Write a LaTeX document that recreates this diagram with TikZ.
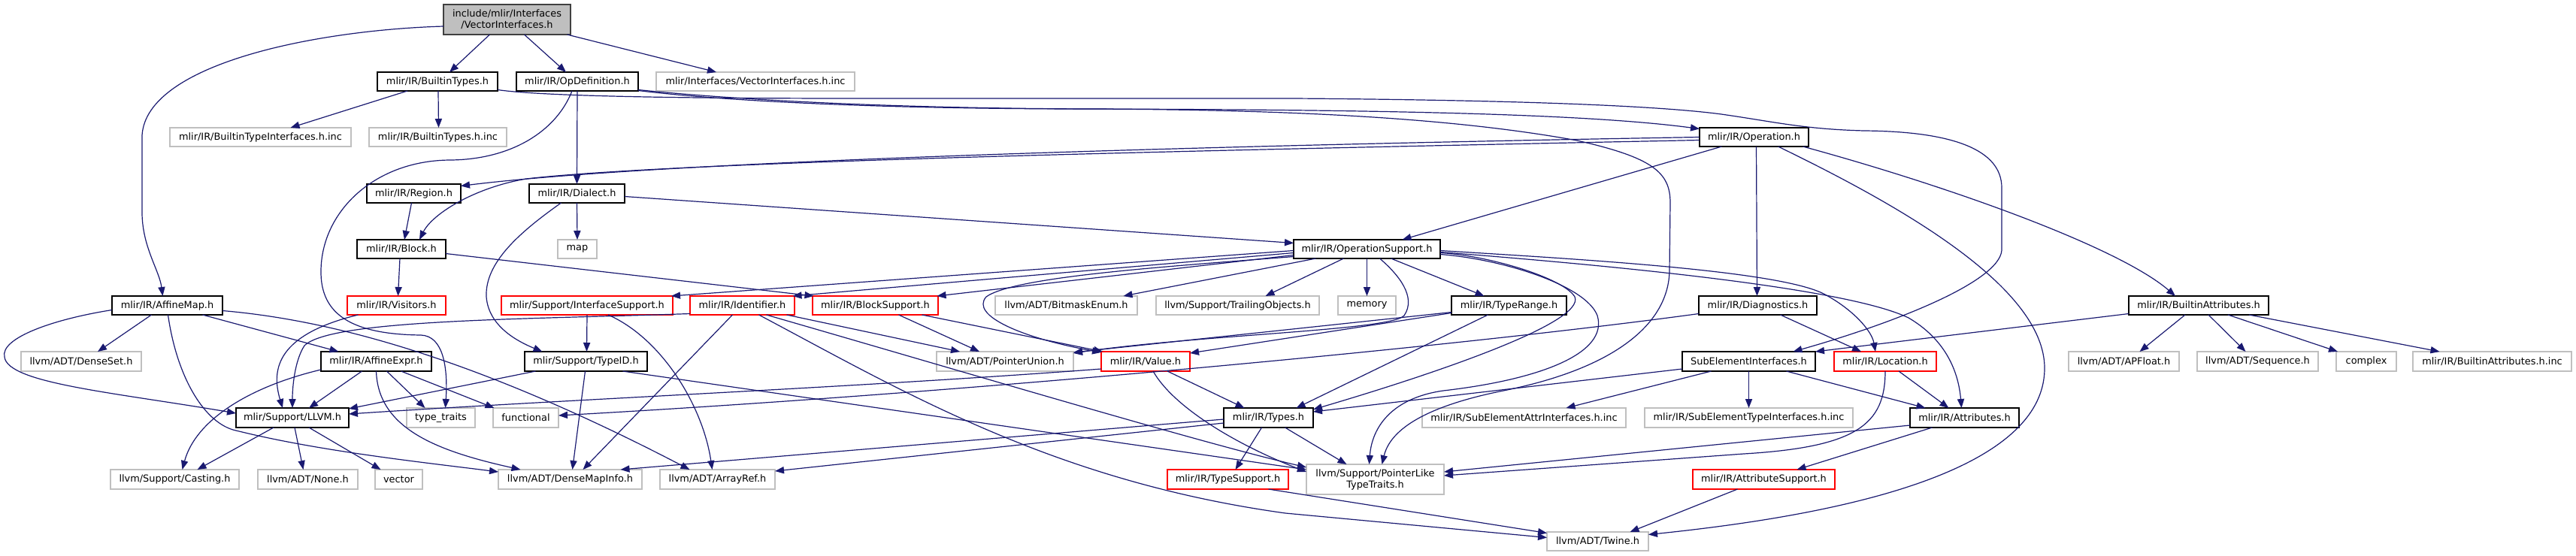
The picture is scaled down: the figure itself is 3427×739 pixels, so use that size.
\documentclass[tikz,border=0pt]{standalone}
\usepackage{fontspec}
\setmainfont{DejaVu Sans}
\usetikzlibrary{arrows.meta,calc}
\definecolor{edgec}{HTML}{191970}
\definecolor{grayb}{HTML}{BFBFBF}
\definecolor{darkb}{HTML}{404040}
\newcommand{\gvbox}[7]{\node[#1, minimum width={(#5-#3)*0.5pt}, minimum height={(#6-#4)*0.5pt}] (#2) at ({(#3+#5)/2},{(#4+#6)/2}) {#7};}
\begin{document}
\begin{tikzpicture}[x=0.5pt,y=-0.5pt,
  every node/.style={font=\fontsize{6.45}{7.5}\selectfont, inner sep=0pt, outer sep=0pt, align=center},
  bk/.style={draw=black, line width=0.65pt, fill=white},
  gy/.style={draw=grayb, line width=0.75pt, fill=white},
  rd/.style={draw=red, line width=0.7pt, fill=white},
  rt/.style={draw=darkb, line width=0.7pt, fill=grayb},
  e/.style={draw=edgec, line width=0.6pt, -{Triangle[length=6pt,width=4.6pt]}}]
\useasboundingbox (0,0) rectangle (3427,739);
% nodes
\gvbox{rt}{root}{590}{6}{759}{46}{include/mlir/Interfaces\\/VectorInterfaces.h}
\gvbox{bk}{bt}{502}{96}{662}{121}{mlir/IR/BuiltinTypes.h}
\gvbox{bk}{opd}{687}{96}{849}{121}{mlir/IR/OpDefinition.h}
\gvbox{gy}{vinc}{873}{96}{1137}{121}{mlir/Interfaces/VectorInterfaces.h.inc}
\gvbox{gy}{btii}{226}{170}{467}{195}{mlir/IR/BuiltinTypeInterfaces.h.inc}
\gvbox{gy}{btinc}{491}{170}{674}{195}{mlir/IR/BuiltinTypes.h.inc}
\gvbox{bk}{op}{2261}{170}{2406}{195}{mlir/IR/Operation.h}
\gvbox{bk}{reg}{488}{245}{613}{270}{mlir/IR/Region.h}
\gvbox{bk}{dia}{704}{245}{831}{270}{mlir/IR/Dialect.h}
\gvbox{bk}{blk}{475}{319}{593}{344}{mlir/IR/Block.h}
\gvbox{gy}{map}{742}{319}{794}{344}{map}
\gvbox{bk}{ops}{1721}{319}{1916}{344}{mlir/IR/OperationSupport.h}
\gvbox{bk}{amap}{149}{394}{296}{419}{mlir/IR/AffineMap.h}
\gvbox{rd}{vis}{462}{394}{593}{419}{mlir/IR/Visitors.h}
\gvbox{rd}{isup}{667}{394}{895}{419}{mlir/Support/InterfaceSupport.h}
\gvbox{rd}{ident}{918}{394}{1057}{419}{mlir/IR/Identifier.h}
\gvbox{rd}{bsup}{1081}{394}{1248}{419}{mlir/IR/BlockSupport.h}
\gvbox{gy}{bmask}{1324}{394}{1513}{419}{llvm/ADT/BitmaskEnum.h}
\gvbox{gy}{trail}{1538}{394}{1755}{419}{llvm/Support/TrailingObjects.h}
\gvbox{gy}{mem}{1780}{394}{1857}{419}{memory}
\gvbox{bk}{trange}{1931}{394}{2084}{419}{mlir/IR/TypeRange.h}
\gvbox{bk}{diag}{2260}{394}{2417}{419}{mlir/IR/Diagnostics.h}
\gvbox{bk}{battr}{2832}{394}{3018}{419}{mlir/IR/BuiltinAttributes.h}
\gvbox{gy}{dset}{28}{468}{188}{494}{llvm/ADT/DenseSet.h}
\gvbox{bk}{aexpr}{427}{468}{574}{494}{mlir/IR/AffineExpr.h}
\gvbox{bk}{tid}{698}{468}{861}{494}{mlir/Support/TypeID.h}
\gvbox{gy}{punion}{1246}{468}{1428}{494}{llvm/ADT/PointerUnion.h}
\gvbox{rd}{val}{1465}{468}{1583}{494}{mlir/IR/Value.h}
\gvbox{bk}{subel}{2238}{468}{2415}{494}{SubElementInterfaces.h}
\gvbox{rd}{loc}{2440}{468}{2576}{494}{mlir/IR/Location.h}
\gvbox{gy}{apf}{2752}{468}{2899}{494}{llvm/ADT/APFloat.h}
\gvbox{gy}{seq}{2923}{468}{3084}{494}{llvm/ADT/Sequence.h}
\gvbox{gy}{cplx}{3108}{468}{3188}{494}{complex}
\gvbox{gy}{bainc}{3210}{468}{3421}{494}{mlir/IR/BuiltinAttributes.h.inc}
\gvbox{bk}{llvm}{314}{543}{464}{569}{mlir/Support/LLVM.h}
\gvbox{gy}{ttr}{541}{543}{632}{569}{type\_traits}
\gvbox{gy}{func}{656}{543}{743}{569}{functional}
\gvbox{bk}{types}{1628}{543}{1747}{569}{mlir/IR/Types.h}
\gvbox{gy}{seai}{1892}{543}{2163}{569}{mlir/IR/SubElementAttrInterfaces.h.inc}
\gvbox{gy}{seti}{2188}{543}{2465}{569}{mlir/IR/SubElementTypeInterfaces.h.inc}
\gvbox{bk}{attrs}{2541}{543}{2686}{569}{mlir/IR/Attributes.h}
\gvbox{gy}{cast}{147}{625}{318}{651}{llvm/Support/Casting.h}
\gvbox{gy}{none}{343}{625}{476}{651}{llvm/ADT/None.h}
\gvbox{gy}{vec}{499}{625}{562}{651}{vector}
\gvbox{gy}{dmi}{663}{625}{854}{651}{llvm/ADT/DenseMapInfo.h}
\gvbox{gy}{aref}{878}{625}{1031}{651}{llvm/ADT/ArrayRef.h}
\gvbox{rd}{tsup}{1553}{625}{1714}{651}{mlir/IR/TypeSupport.h}
\gvbox{gy}{plt}{1738}{618}{1921}{658}{llvm/Support/PointerLike\\TypeTraits.h}
\gvbox{rd}{asup}{2252}{625}{2441}{651}{mlir/IR/AttributeSupport.h}
\gvbox{gy}{twine}{2058}{708}{2193}{733}{llvm/ADT/Twine.h}
% root
\draw[e] ($(root.south)+(-23,0)$) -- ($(bt.north)+(16,0)$);
\draw[e] ($(root.south)+(23,0)$) -- ($(opd.north)+(-15,0)$);
\draw[e] ($(root.south)+(80,0)$) -- ($(vinc.north)+(-52,0)$);
\draw[e] ($(root.west)+(0,9)$) .. controls (420,40) and (195,85) .. (189,180) -- (189,285) .. controls (190,330) and (212,360) .. ($(amap.north)+(-6,0)$);
% BuiltinTypes
\draw[e] ($(bt.south)+(-40,0)$) -- ($(btii.north)+(40,0)$);
\draw[e] ($(bt.south)+(1,0)$) -- ($(btinc.north)+(1,0)$);
\draw[e] ($(bt.east)+(0,11)$) .. controls (720,128) and (900,131) .. (1140,131) -- (1720,131) .. controls (2000,133) and (2200,140) .. (2290,152) .. controls (2360,162) and (2400,172) .. (2480,174) .. controls (2600,175) and (2663,200) .. (2663,250) -- (2663,333) .. controls (2660,375) and (2520,430) .. ($(subel.north)+(59,0)$);
% OpDefinition
\draw[e] (opd.south) -- (dia.north);
\draw[e] ($(opd.east)+(0,11)$) .. controls (950,130) and (1150,144) .. (1450,145) .. controls (1800,146) and (2100,150) .. ($(op.west)+(0,-11)$);
\draw[e] ($(opd.east)+(0,12)$) .. controls (950,133) and (1150,145) .. (1450,145) .. controls (1750,146) and (1950,160) .. (2098,187) .. controls (2200,210) and (2222,230) .. (2222,270) -- (2221,360) .. controls (2220,430) and (2150,490) .. (2000,520) .. controls (1900,540) and (1850,570) .. ($(plt.north)+(9,0)$);
\draw[e] ($(opd.south)+(-7,0)$) .. controls (740,175) and (680,212) .. (600,213) .. controls (500,213) and (428,280) .. (427,360) .. controls (426,420) and (470,445) .. (560,446) .. controls (590,447) and (596,490) .. ($(ttr.north)+(6,0)$);
% Operation
\draw[e] (op.west) .. controls (1700,192) and (900,212) .. ($(reg.east)+(0,-10)$);
\draw[e] ($(op.west)+(0,4)$) .. controls (1600,200) and (900,215) .. (700,238) .. controls (630,250) and (575,285) .. ($(blk.north)+(24,0)$);
\draw[e] ($(op.south)+(-43,0)$) -- ($(ops.north)+(47,0)$);
\draw[e] ($(op.south)+(3,0)$) -- ($(diag.north)+(-1,0)$);
\draw[e] ($(op.south)+(65,0)$) .. controls (2600,250) and (2820,330) .. ($(battr.north)+(-31,0)$);
\draw[e] ($(op.south)+(32,0)$) .. controls (2520,270) and (2720,380) .. (2720,490) .. controls (2720,640) and (2400,690) .. ($(twine.east)+(0,-9)$);
% Region, Dialect, Block
\draw[e] ($(reg.south)+(-3,0)$) -- ($(blk.north)+(4,0)$);
\draw[e] (dia.south) -- (map.north);
\draw[e] ($(dia.east)+(0,4)$) -- ($(ops.west)+(0,-8)$);
\draw[e] ($(dia.south)+(-21,0)$) .. controls (690,310) and (645,350) .. (647,395) .. controls (650,435) and (690,455) .. ($(tid.north)+(-58,0)$);
\draw[e] ($(blk.south)+(-2,0)$) -- ($(vis.north)+(2,0)$);
\draw[e] ($(blk.east)+(0,6)$) -- ($(bsup.north)+(-82,0)$);
% OperationSupport
\draw[e] ($(ops.west)+(0,2)$) -- ($(isup.north)+(112,0)$);
\draw[e] ($(ops.west)+(0,5)$) -- ($(ident.north)+(67,0)$);
\draw[e] ($(ops.west)+(0,8)$) -- ($(bsup.north)+(82,0)$);
\draw[e] ($(ops.south)+(-68,0)$) -- ($(bmask.north)+(76,0)$);
\draw[e] ($(ops.south)+(-31,0)$) -- ($(trail.north)+(37,0)$);
\draw[e] (ops.south) -- (mem.north);
\draw[e] ($(ops.south)+(32,0)$) -- ($(trange.north)+(-33,0)$);
\draw[e] ($(ops.west)+(0,10)$) .. controls (1550,355) and (1350,368) .. (1312,395) .. controls (1290,420) and (1360,450) .. ($(val.west)+(0,-12)$);
\draw[e] ($(ops.south)+(17,0)$) .. controls (1860,365) and (1885,395) .. (1868,420) .. controls (1850,440) and (1600,445) .. ($(punion.east)+(0,-11)$);
\draw[e] ($(ops.east)+(0,5)$) .. controls (1980,340) and (2080,370) .. (2095,395) .. controls (2110,430) and (1900,500) .. ($(types.east)+(0,-11)$);
\draw[e] ($(ops.east)+(0,7)$) .. controls (2000,345) and (2110,380) .. (2125,420) .. controls (2140,470) and (2050,505) .. (1920,520) .. controls (1850,530) and (1825,570) .. ($(plt.north)+(-8,0)$);
\draw[e] ($(ops.east)+(0,2)$) .. controls (2100,345) and (2370,360) .. (2428,392) .. controls (2465,412) and (2490,440) .. ($(loc.north)+(-13,0)$);
\draw[e] ($(ops.east)+(0,4)$) .. controls (2100,350) and (2450,380) .. (2539,423) .. controls (2585,450) and (2605,490) .. ($(attrs.north)+(-4,0)$);
% row 5
\draw[e] ($(vis.south)+(-51,0)$) .. controls (370,445) and (360,490) .. ($(llvm.north)+(-13,0)$);
\draw[e] (isup.south) -- ($(tid.north)+(1,0)$);
\draw[e] ($(isup.south)+(28,0)$) .. controls (880,450) and (935,540) .. ($(aref.north)+(-7,0)$);
\draw[e] ($(ident.west)+(0,11)$) .. controls (700,425) and (440,425) .. (405,460) .. controls (392,480) and (389,515) .. (llvm.north);
\draw[e] ($(ident.south)+(-13,0)$) -- ($(dmi.north)+(17,0)$);
\draw[e] ($(ident.south)+(59,0)$) -- ($(punion.north)+(-60,0)$);
\draw[e] ($(ident.south)+(32,0)$) .. controls (1300,500) and (1600,590) .. ($(plt.west)+(0,-16)$);
\draw[e] ($(ident.south)+(22,0)$) .. controls (1200,520) and (1400,640) .. (1710,683) -- ($(twine.west)+(0,-5)$);
\draw[e] ($(bsup.south)+(31,0)$) -- ($(punion.north)+(-34,0)$);
\draw[e] ($(bsup.south)+(62,0)$) -- ($(val.north)+(-57,0)$);
\draw[e] ($(trange.west)+(0,10)$) -- ($(val.east)+(0,-11)$);
\draw[e] ($(trange.west)+(0,9)$) -- ($(punion.east)+(0,-12)$);
\draw[e] ($(trange.south)+(-28,0)$) -- ($(types.north)+(37,0)$);
\draw[e] ($(diag.south)+(30,0)$) -- ($(loc.north)+(-32,0)$);
\draw[e] ($(diag.west)+(0,11)$) .. controls (1950,460) and (1300,522) .. ($(func.east)+(0,-3)$);
\draw[e] ($(battr.west)+(0,11)$) -- ($(subel.east)+(0,-13)$);
\draw[e] ($(battr.south)+(-18,0)$) -- ($(apf.north)+(21,0)$);
\draw[e] ($(battr.south)+(13,0)$) -- ($(seq.north)+(-16,0)$);
\draw[e] ($(battr.south)+(39,0)$) -- ($(cplx.north)+(-38,0)$);
\draw[e] ($(battr.south)+(67,0)$) -- ($(bainc.north)+(-70,0)$);
% AffineMap
\draw[e] ($(amap.south)+(-21,0)$) -- ($(dset.north)+(22,0)$);
\draw[e] ($(amap.south)+(47,0)$) -- ($(aexpr.north)+(-50,0)$);
\draw[e] ($(amap.west)+(0,6)$) .. controls (70,425) and (0,450) .. (6,475) .. controls (10,510) and (150,522) .. ($(llvm.west)+(0,-6)$);
\draw[e] ($(amap.south)+(1,0)$) .. controls (235,500) and (270,560) .. (310,572) .. controls (420,600) and (560,615) .. ($(dmi.west)+(0,-10)$);
\draw[e] ($(amap.east)+(0,7)$) .. controls (430,425) and (620,470) .. ($(aref.north)+(-37,0)$);
% AffineExpr
\draw[e] ($(aexpr.south)+(-19,0)$) -- ($(llvm.north)+(22,0)$);
\draw[e] ($(aexpr.west)+(0,11)$) .. controls (330,515) and (260,560) .. ($(cast.north)+(10,0)$);
\draw[e] ($(aexpr.south)+(14,0)$) -- ($(ttr.north)+(-21,0)$);
\draw[e] ($(aexpr.south)+(33,0)$) -- ($(func.north)+(-42,0)$);
\draw[e] (aexpr.south) .. controls (503,570) and (580,600) .. ($(dmi.north)+(-66,0)$);
% TypeID
\draw[e] ($(tid.south)+(-67,0)$) -- ($(llvm.east)+(0,-12)$);
\draw[e] ($(tid.south)+(-1,0)$) -- ($(dmi.north)+(3,0)$);
\draw[e] ($(tid.south)+(49,0)$) -- ($(plt.west)+(0,-13)$);
% Value
\draw[e] ($(val.south)+(29,0)$) -- ($(types.north)+(-32,0)$);
\draw[e] ($(val.south)+(10,0)$) .. controls (1560,540) and (1640,590) .. ($(plt.west)+(0,-10)$);
\draw[e] ($(val.west)+(0,10)$) .. controls (1150,515) and (750,532) .. ($(llvm.east)+(0,-5)$);
% SubElementInterfaces, Location, Attributes
\draw[e] ($(subel.west)+(0,10)$) -- ($(types.east)+(0,-8)$);
\draw[e] ($(subel.south)+(-50,0)$) -- ($(seai.north)+(56,0)$);
\draw[e] (subel.south) -- (seti.north);
\draw[e] ($(subel.south)+(50,0)$) -- ($(attrs.north)+(-52,0)$);
\draw[e] ($(loc.south)+(18,0)$) -- ($(attrs.north)+(-21,0)$);
\draw[e] (loc.south) .. controls (2508,565) and (2470,595) .. (2320,604) -- ($(plt.east)+(0,-5)$);
\draw[e] ($(attrs.west)+(0,10)$) -- ($(plt.east)+(0,-10)$);
\draw[e] ($(attrs.south)+(-43,0)$) -- ($(asup.north)+(44,0)$);
% LLVM, Types, supports
\draw[e] ($(llvm.south)+(-25,0)$) -- ($(cast.north)+(30,0)$);
\draw[e] ($(llvm.south)+(3,0)$) -- ($(none.north)+(-6,0)$);
\draw[e] ($(llvm.south)+(22,0)$) -- ($(vec.north)+(-24,0)$);
\draw[e] ($(types.south)+(-9,0)$) -- ($(tsup.north)+(10,0)$);
\draw[e] ($(types.south)+(22,0)$) -- ($(plt.north)+(-38,0)$);
\draw[e] ($(types.west)+(0,2)$) -- ($(dmi.north)+(67,0)$);
\draw[e] ($(types.west)+(0,7)$) -- ($(aref.east)+(0,-11)$);
\draw[e] ($(tsup.south)+(54,0)$) -- ($(twine.west)+(0,-11)$);
\draw[e] ($(asup.south)+(-35,0)$) -- ($(twine.north)+(43,0)$);
\end{tikzpicture}
\end{document}
